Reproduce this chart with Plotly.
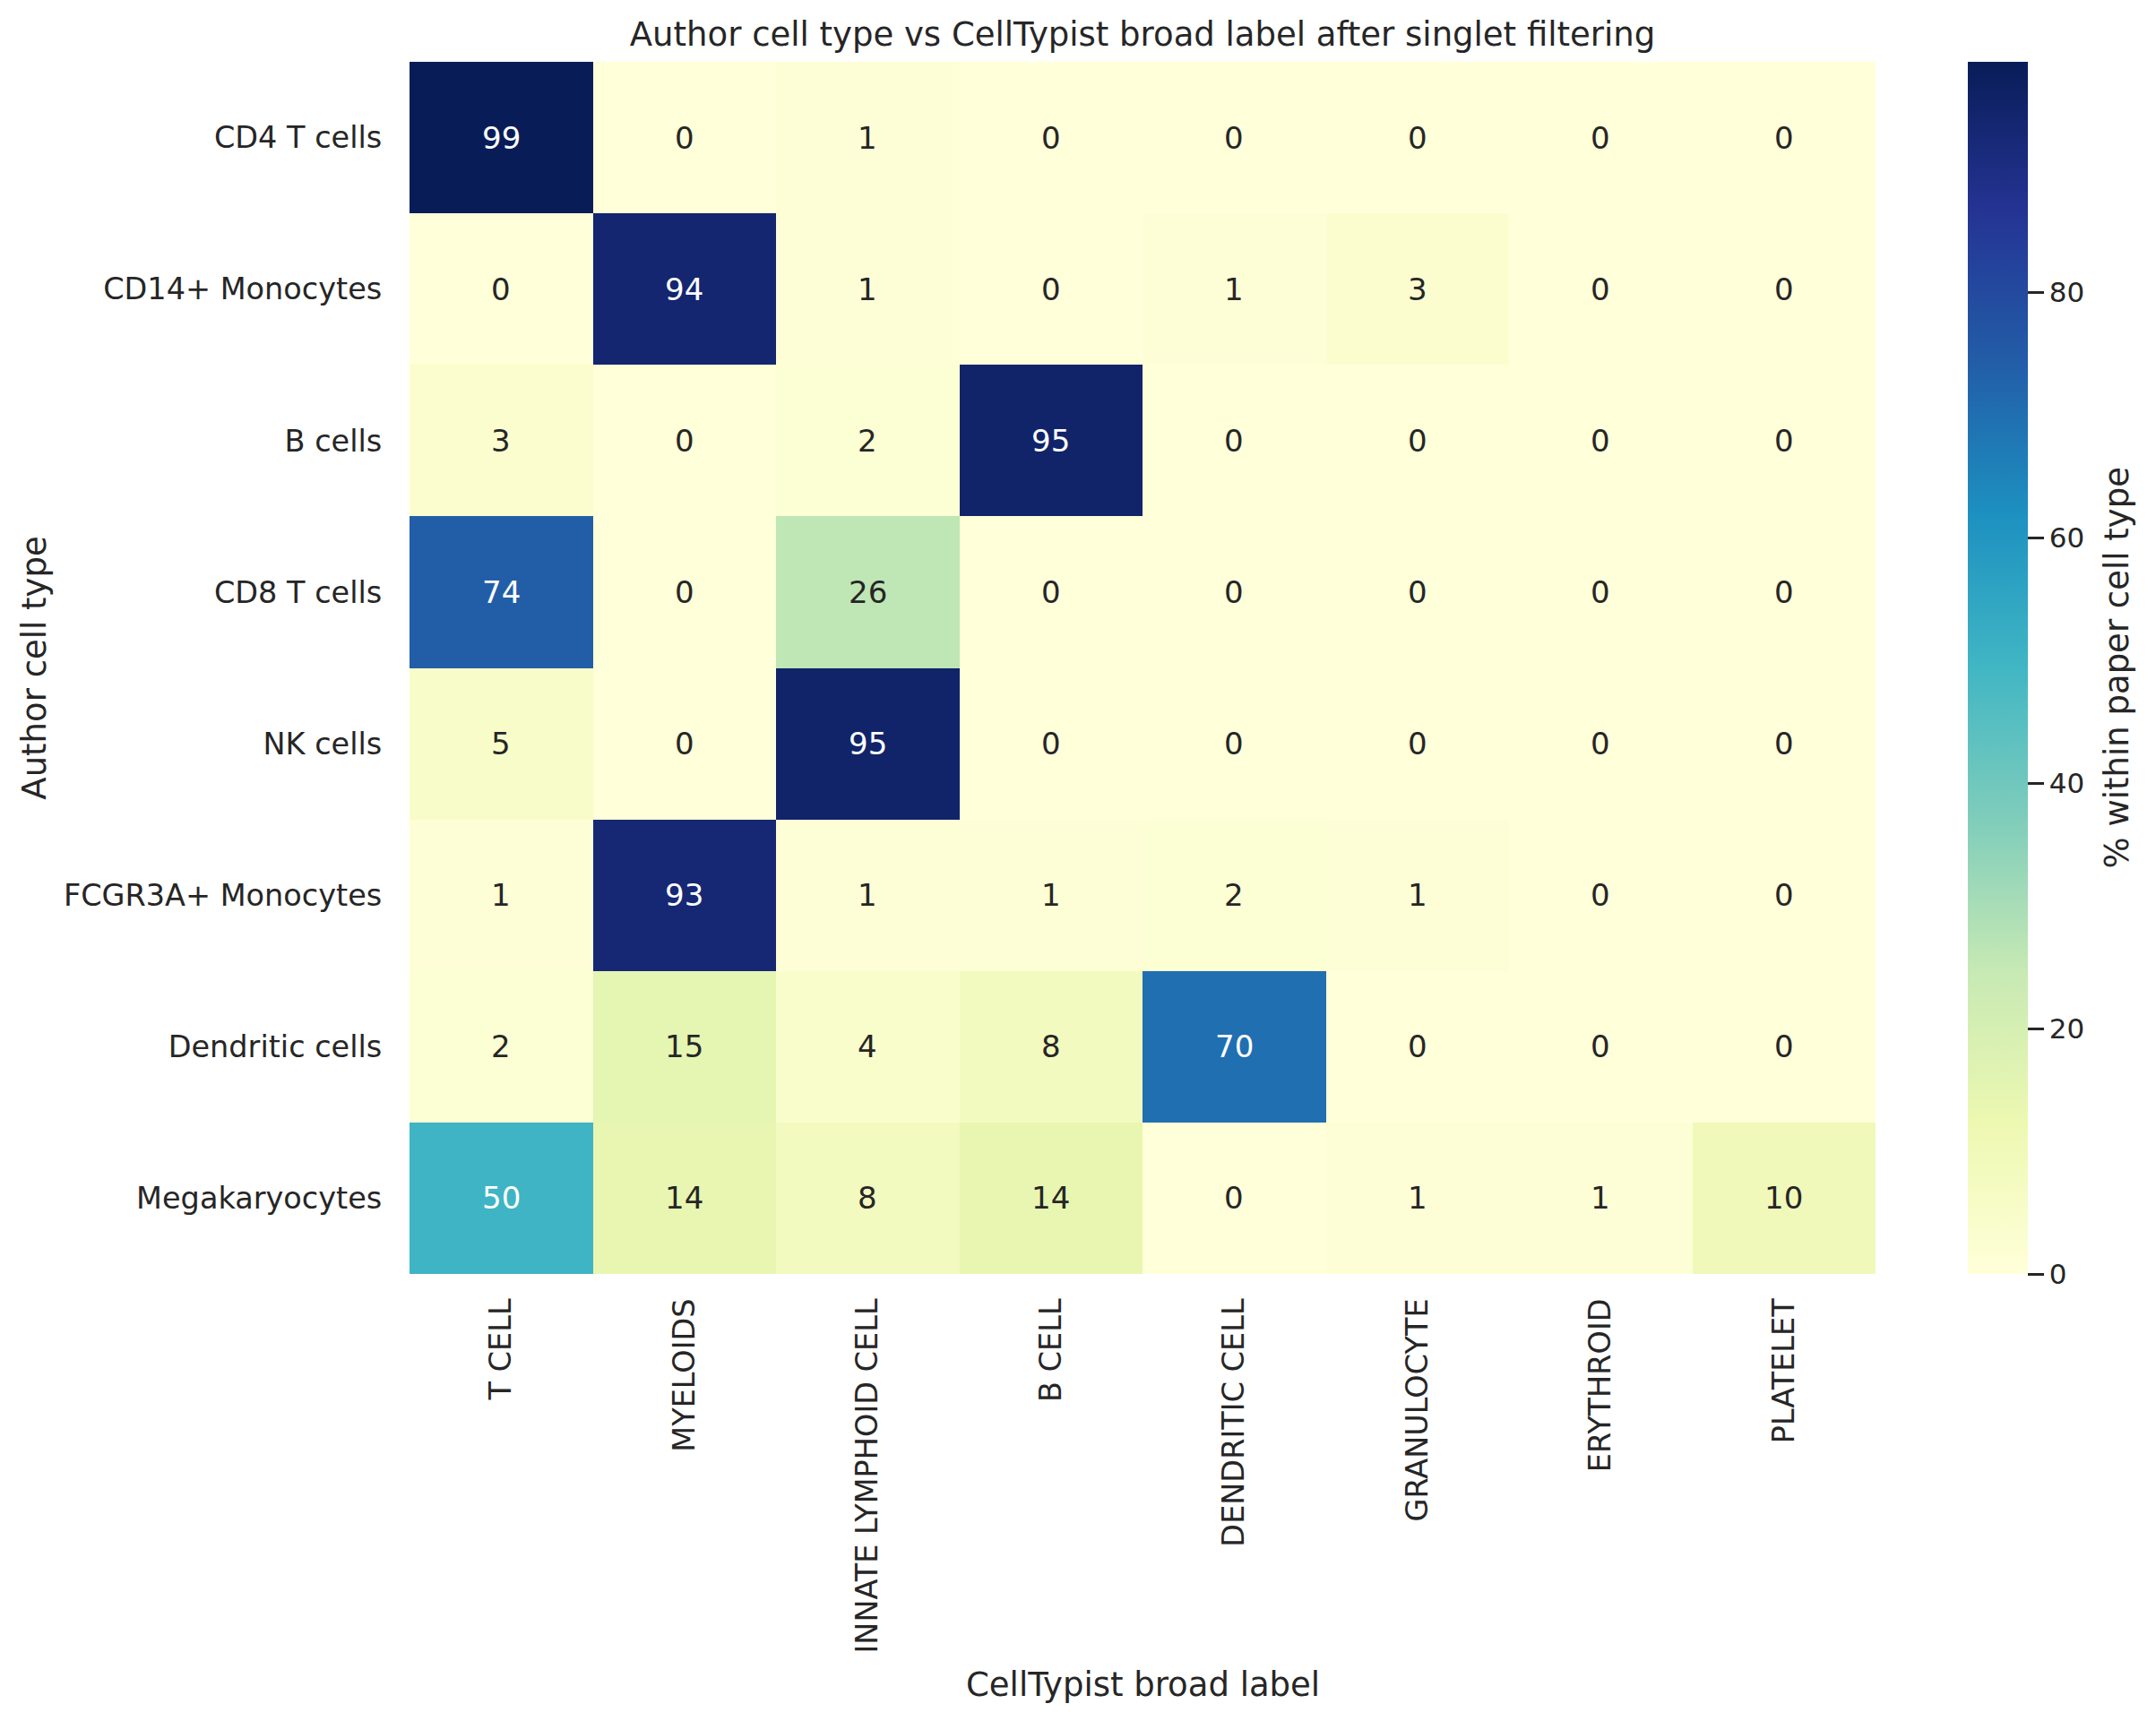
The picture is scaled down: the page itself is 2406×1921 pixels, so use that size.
import plotly.graph_objects as go

# author (paper) cell types, top to bottom
author_types = ["CD4 T cells", "CD14+ Monocytes", "B cells", "CD8 T cells",
                "NK cells", "FCGR3A+ Monocytes", "Dendritic cells", "Megakaryocytes"]
# CellTypist broad labels, left to right
broad_labels = ["T CELL", "MYELOIDS", "INNATE LYMPHOID CELL", "B CELL",
                "DENDRITIC CELL", "GRANULOCYTE", "ERYTHROID", "PLATELET"]

# % within paper cell type
pct_cd4 = [98.8, 0, 1, 0, 0, 0, 0, 0]
pct_cd14 = [0, 94, 1, 0, 1, 3, 0, 0]
pct_b = [3, 0, 2, 95, 0, 0, 0, 0]
pct_cd8 = [74, 0, 26, 0, 0, 0, 0, 0]
pct_nk = [5, 0, 95, 0, 0, 0, 0, 0]
pct_fcgr3a = [1, 93, 1, 1, 2, 1, 0, 0]
pct_dc = [2, 15, 4, 8, 70, 0, 0, 0]
pct_mk = [50, 14, 8, 14, 0, 1, 1, 10]

z = [pct_cd4, pct_cd14, pct_b, pct_cd8, pct_nk, pct_fcgr3a, pct_dc, pct_mk]

cbar_ticks = [0, 20, 40, 60, 80]

# matplotlib YlGnBu
ylgnbu = ["#ffffd9", "#edf8b1", "#c7e9b4", "#7fcdbb", "#41b6c4",
          "#1d91c0", "#225ea8", "#253494", "#081d58"]
colorscale = [[i / (len(ylgnbu) - 1), c] for i, c in enumerate(ylgnbu)]

FONT = "DejaVu Sans"
DARK = "#262626"
LABEL_SIZE = 37
TICK_SIZE = 33.5
zmax = max(max(r) for r in z)

fig = go.Figure()
fig.add_trace(go.Heatmap(
    z=z, x=broad_labels, y=author_types,
    colorscale=colorscale, zmin=0, zmax=zmax,
    hovertemplate="%{y}<br>%{x}<br>%{z:.1f}%<extra></extra>",
    colorbar=dict(
        thickness=67, len=1, lenmode="fraction", y=0.5, yanchor="middle",
        x=1.063, xanchor="left", xpad=0, ypad=0, outlinewidth=0,
        tickvals=cbar_ticks, ticks="outside", ticklen=18, tickwidth=3,
        tickcolor=DARK, tickfont=dict(family=FONT, size=31, color=DARK),
    ),
))

# cell annotations, white on dark cells
annotations = []
for i, row in enumerate(z):
    for j, v in enumerate(row):
        annotations.append(dict(
            x=broad_labels[j], y=author_types[i], xref="x", yref="y",
            text=f"{v:.0f}", showarrow=False,
            font=dict(family=FONT, size=34, color="white" if v >= 45 else DARK),
        ))

annotations.append(dict(
    text="CellTypist broad label", xref="paper", yref="paper",
    x=0.5, y=-0.339, xanchor="center", yanchor="middle", showarrow=False,
    font=dict(family=FONT, size=LABEL_SIZE, color=DARK),
))
annotations.append(dict(
    text="Author cell type", xref="paper", yref="paper", textangle=-90,
    x=-0.256, y=0.5, xanchor="center", yanchor="middle", showarrow=False,
    font=dict(family=FONT, size=LABEL_SIZE, color=DARK),
))
annotations.append(dict(
    text="% within paper cell type", xref="paper", yref="paper", textangle=-90,
    x=1.165, y=0.5, xanchor="center", yanchor="middle", showarrow=False,
    font=dict(family=FONT, size=LABEL_SIZE, color=DARK),
))

fig.update_layout(
    width=2390, height=1905,
    margin=dict(l=449, r=305, t=61, b=491),
    paper_bgcolor="white", plot_bgcolor="white",
    font=dict(family=FONT, size=TICK_SIZE, color=DARK),
    title=dict(text="Author cell type vs CellTypist broad label after singlet filtering",
               x=0.5, xref="paper", y=1 - 30 / 1905, yanchor="middle",
               font=dict(family=FONT, size=LABEL_SIZE, color=DARK)),
    annotations=annotations,
)
fig.update_xaxes(showgrid=False, zeroline=False, showline=False, tickangle=-90,
                 ticks="outside", ticklen=13, tickcolor="rgba(0,0,0,0)",
                 tickfont=dict(family=FONT, size=TICK_SIZE, color=DARK))
fig.update_yaxes(showgrid=False, zeroline=False, showline=False, autorange="reversed",
                 ticks="outside", ticklen=23, tickcolor="rgba(0,0,0,0)",
                 tickfont=dict(family=FONT, size=TICK_SIZE, color=DARK))

fig.write_html("out.html")
